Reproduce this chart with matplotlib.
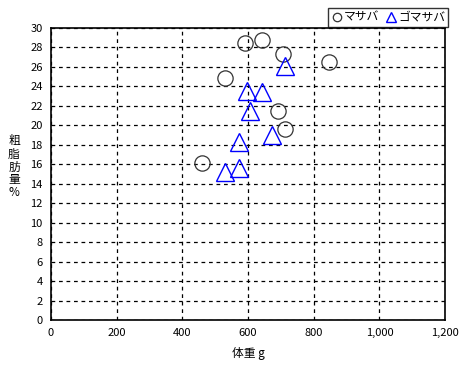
import matplotlib
matplotlib.use('Agg')
import matplotlib.pyplot as plt

plt.rcParams['font.family'] = ['Noto Sans CJK JP', 'DejaVu Sans']

# data
masaba_x = [591, 643, 707, 847, 530, 691, 713, 459]
masaba_y = [28.4, 28.8, 27.3, 26.5, 24.9, 21.5, 19.6, 16.1]
goma_x = [713, 597, 643, 606, 673, 573, 573, 530]
goma_y = [26.1, 23.5, 23.4, 21.5, 19.0, 18.3, 15.6, 15.2]
xticks = [0, 200, 400, 600, 800, 1000, 1200]
xtick_labels = ['0', '200', '400', '600', '800', '1,000', '1,200']
yticks = list(range(0, 31, 2))

fig = plt.figure(figsize=(4.68, 3.67), dpi=100)
ax = fig.add_axes([0.109, 0.128, 0.842, 0.796])

ax.plot(masaba_x, masaba_y, 'o', ms=11, mfc='none', mec='#333333', mew=0.9,
        label='マサバ')
ax.plot(goma_x, goma_y, '^', ms=12.5, mfc='none', mec='#0000ff', mew=1.0,
        label='ゴマサバ')

ax.set_xlim(0, 1200)
ax.set_ylim(0, 30)
ax.set_xticks(xticks)
ax.set_xticklabels(xtick_labels)
ax.set_yticks(yticks)
ax.tick_params(length=0, labelsize=8, pad=6)
ax.grid(True, color='black', linestyle=(0, (3, 3)), linewidth=0.9)
for s in ax.spines.values():
    s.set_linewidth(1.2)

ax.set_xlabel('体重 g', fontsize=8.5, labelpad=6)
# vertical stacked y label
fig.text(0.03, 0.545, '粗\n脂\n肪\n量\n%', fontsize=8.5, ha='center',
         va='center', linespacing=1.0)

leg = fig.legend(loc='upper right', bbox_to_anchor=(0.97, 0.995), ncol=2,
                 fontsize=8.5, frameon=True, fancybox=False, edgecolor='black',
                 handletextpad=0.1, columnspacing=0.5, handlelength=1.0,
                 borderpad=0.25, markerscale=0.55)
leg.get_frame().set_linewidth(1.0)

fig.savefig('out.png', dpi=100)
